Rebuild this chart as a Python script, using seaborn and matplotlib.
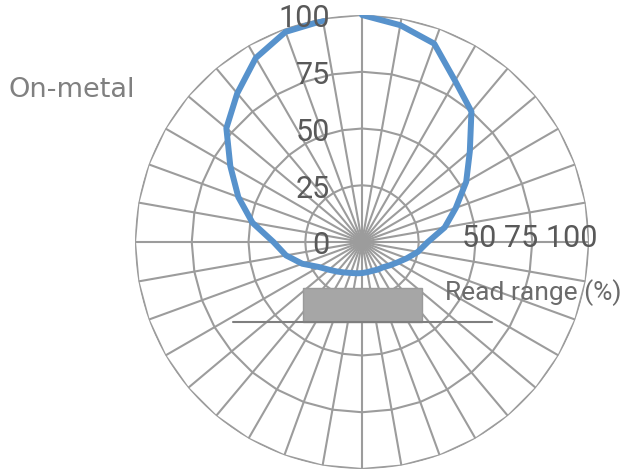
import numpy as np
import pandas as pd
import matplotlib
matplotlib.use("Agg")
import matplotlib.pyplot as plt
import matplotlib.transforms as mtransforms
from matplotlib.patches import Rectangle
import seaborn as sns

# ---- data ----
angles_deg = [0, 10, 20, 30, 40, 50, 60, 70, 80, 90, 100, 110,
              120, 130, 140, 150, 160, 170, 180, 190, 200, 210, 220, 230,
              240, 250, 260, 270, 280, 290, 300, 310, 320, 330, 340, 350]
read_range = [100, 97, 93, 82, 75, 62, 53, 44, 37, 29, 25, 21,
              18, 16, 14.5, 14, 13.5, 13.5, 13.7, 14, 14.5, 15.5, 17, 19,
              22, 28, 34, 39, 49, 58, 67, 78, 85.5, 93.6, 98.5, 99]
ring_values = [25, 50, 75, 100]
radial_ticks = [0, 25, 50, 75, 100]
radial_labels = ["0", "25", "50", "75", "100"]
right_labels = "50 75 100"
chart_title = "On-metal"
axis_title = "Read range (%)"

# ---- style ----
sns.set_theme(style="white")
plt.rcParams['font.family'] = ['Roboto', 'DejaVu Sans']

W, H, DPI = 626, 469, 100
fig = plt.figure(figsize=(W / DPI, H / DPI), dpi=DPI)
cx, cy, R = 362, 242, 227
ax = fig.add_axes([(cx - R) / W, (H - cy - R) / H, 2 * R / W, 2 * R / H],
                  projection='polar')
ax.set_theta_zero_location('N')
ax.set_theta_direction(-1)
ax.grid(False)
ax.spines['polar'].set_visible(False)
ax.patch.set_alpha(0)

grid_color = '#9c9c9c'
th_closed = np.deg2rad(angles_deg + [angles_deg[0]])

# spokes
ax.vlines(np.deg2rad(angles_deg), 0, 100, color=grid_color, lw=1.5, zorder=1)
# polygon rings
for v in ring_values:
    ax.plot(th_closed, [v] * len(th_closed), color=grid_color, lw=1.5, zorder=1)

# data line
df = pd.DataFrame({'theta': th_closed, 'r': read_range + [read_range[0]]})
sns.lineplot(data=df, x='theta', y='r', ax=ax, sort=False, color='#5792cc',
             lw=4.3, zorder=3)

ax.set_ylim(0, 100)
ax.set_xticks([])
ax.set_yticks([])
ax.set_xlabel('')
ax.set_ylabel('')

# radial labels
tr = mtransforms.offset_copy(ax.transData, fig=fig, x=-32, y=-4, units='dots')
for v, lab in zip(radial_ticks, radial_labels):
    ax.text(0, v, lab, transform=tr, ha='right', va='center',
            fontsize=22, color='#595959', zorder=4)

# overlay for annotations (pixel coordinates)
ov = fig.add_axes([0, 0, 1, 1], zorder=5)
ov.set_xlim(0, W)
ov.set_ylim(H, 0)
ov.set_axis_off()

ov.text(462, 238.5, right_labels, ha='left', va='center', fontsize=22,
        color='#595959')
ov.text(8, 97, chart_title, ha='left', va='baseline', fontsize=19.5,
        color='#808080', family=['DejaVu Sans'])
ov.text(445, 300, axis_title, ha='left', va='baseline', fontsize=19,
        color='#6b6b6b')

ov.add_patch(Rectangle((303, 288), 119, 34, facecolor='#a6a6a6',
                       edgecolor='#9a9a9a', lw=1))
ov.plot([233, 492], [322, 322], color='#7f7f7f', lw=1.5)

fig.savefig('out.png', dpi=DPI)
